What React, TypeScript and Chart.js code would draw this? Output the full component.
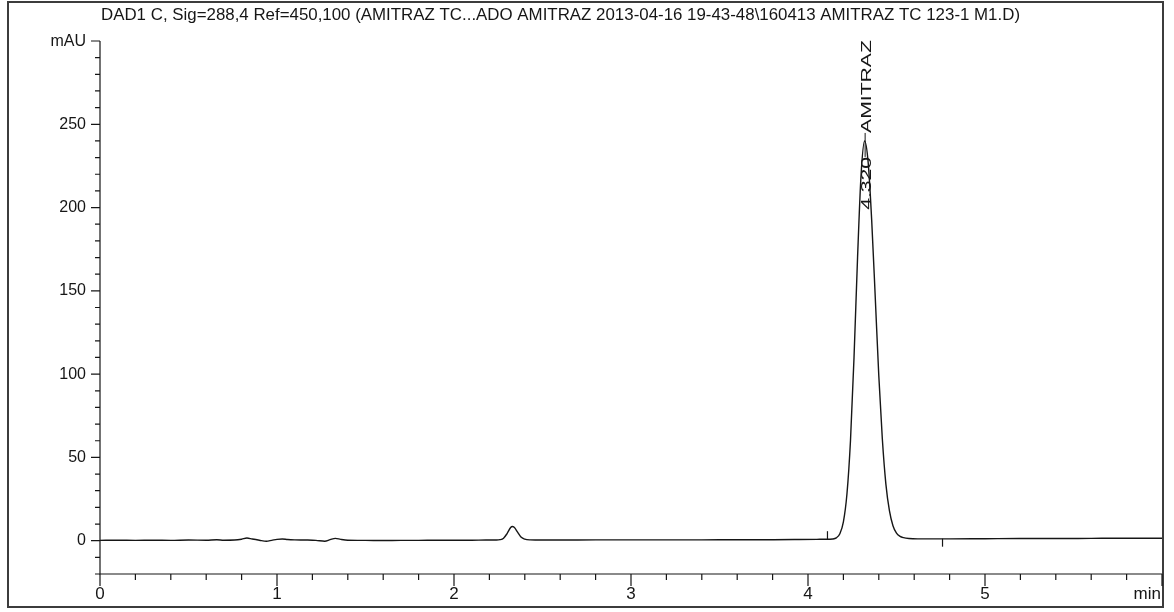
import React, { useEffect, useRef } from "react";
import { Chart, registerables } from "chart.js";

Chart.register(...registerables);

const chartTitle =
  "DAD1 C, Sig=288,4 Ref=450,100 (AMITRAZ TC...ADO AMITRAZ 2013-04-16 19-43-48\\160413 AMITRAZ TC 123-1 M1.D)";

// Retention time (min)
const timeMin = [
  0, 0.1, 0.2, 0.3, 0.4, 0.5, 0.6, 0.66, 0.7, 0.76, 0.8, 0.83, 0.86, 0.9, 0.94, 0.97, 1.0, 1.03, 1.06, 1.1,
  1.16, 1.22, 1.27, 1.3, 1.33, 1.36, 1.4, 1.5, 1.6, 1.7, 1.8, 1.9, 2.0, 2.1, 2.18, 2.24, 2.26, 2.28, 2.3, 2.32,
  2.33, 2.34, 2.36, 2.38, 2.4, 2.43, 2.5, 2.6, 2.8, 3.0, 3.2, 3.4, 3.6, 3.8, 3.95, 4.05, 4.12, 4.14, 4.16, 4.18,
  4.2, 4.22, 4.24, 4.26, 4.28, 4.3, 4.32, 4.34, 4.36, 4.38, 4.4, 4.42, 4.44, 4.46, 4.48, 4.5, 4.52, 4.54, 4.57, 4.62,
  4.7, 4.8, 5.0, 5.2, 5.4, 5.6, 5.8, 6.0,
];

// Detector signal (mAU)
const absorbanceMAU = [
  0.2, 0.3, 0.2, 0.3, 0.2, 0.4, 0.3, 0.6, 0.3, 0.4, 0.9, 1.6, 1.0, 0.3, -0.3, 0.2, 0.8, 1.0, 0.7, 0.5,
  0.4, 0.2, -0.3, 0.6, 1.4, 0.8, 0.3, 0.2, 0.1, 0.2, 0.2, 0.3, 0.3, 0.3, 0.4, 0.4, 0.6, 1.5, 4.3, 7.9,
  8.5, 8.0, 5.0, 2.0, 0.9, 0.5, 0.4, 0.4, 0.5, 0.5, 0.5, 0.5, 0.6, 0.6, 0.7, 0.8, 0.9, 1.0, 1.7, 4.2,
  11.3, 28, 60, 110, 170, 220, 240, 227, 192, 146, 99, 61, 34, 18, 9, 4.5, 2.6, 1.8, 1.3, 1.1,
  1.1, 1.1, 1.2, 1.3, 1.3, 1.4, 1.5, 1.5,
];

// Integration event marks
const eventTimes = [4.11, 4.76];
const eventMAU = [3.3, -1.2];

// Peak annotation
const peakRt = 4.32;
const peakApexMAU = 240;
const peakRtLabel = "4.320";
const peakName = "AMITRAZ";

// Axes
const xTickValues = [0, 1, 2, 3, 4, 5];
const xTickLabels = ["0", "1", "2", "3", "4", "5"];
const xUnitLabel = "min";
const yTickValues = [0, 50, 100, 150, 200, 250];
const yTickLabels = ["0", "50", "100", "150", "200", "250"];
const yUnitLabel = "mAU";

const X_MIN = 0;
const X_MAX = 6;
const Y_MIN = -20;
const Y_MAX = 300;
const X_MINOR = 0.2;
const Y_MINOR = 10;

const FONT = '"Liberation Sans", Arial, Helvetica, sans-serif';
const INK = "#161616";

const decorPlugin = {
  id: "chromDecor",
  beforeDraw(chart: any) {
    const { ctx, width, height } = chart;
    ctx.save();
    ctx.fillStyle = "#ffffff";
    ctx.fillRect(0, 0, width, height);
    ctx.restore();
  },
  beforeDatasetsDraw(chart: any) {
    const { ctx } = chart;
    const xs = chart.scales.x;
    const ys = chart.scales.y;
    const ca = chart.chartArea;
    ctx.save();

    // outer frame
    ctx.strokeStyle = "#3c3c3c";
    ctx.lineWidth = 2;
    ctx.strokeRect(8, 2, 1155, 605);

    // axes lines
    ctx.strokeStyle = INK;
    ctx.lineWidth = 1.2;
    const axX = xs.getPixelForValue(X_MIN);
    const axY = ys.getPixelForValue(Y_MIN);
    ctx.beginPath();
    ctx.moveTo(axX, ys.getPixelForValue(Y_MAX));
    ctx.lineTo(axX, axY);
    ctx.lineTo(xs.getPixelForValue(X_MAX), axY);
    ctx.stroke();

    // y ticks
    const ny = Math.round((Y_MAX - Y_MIN) / Y_MINOR);
    ctx.beginPath();
    for (let i = 0; i <= ny; i++) {
      const v = Y_MIN + i * Y_MINOR;
      const major = yTickValues.includes(v) || v === Y_MAX;
      const len = major ? 9 : 5;
      const py = ys.getPixelForValue(v);
      ctx.moveTo(axX - len, py);
      ctx.lineTo(axX, py);
    }
    ctx.stroke();

    // x ticks
    const nx = Math.round((X_MAX - X_MIN) / X_MINOR);
    ctx.beginPath();
    for (let i = 0; i <= nx; i++) {
      const t = X_MIN + i * X_MINOR;
      const major = i % 5 === 0;
      const len = major ? 12 : 6;
      const px = xs.getPixelForValue(t);
      ctx.moveTo(px, axY);
      ctx.lineTo(px, axY + len);
    }
    ctx.stroke();

    // y labels
    ctx.fillStyle = INK;
    ctx.font = `16px ${FONT}`;
    ctx.textAlign = "right";
    ctx.textBaseline = "middle";
    yTickValues.forEach((v, i) => {
      ctx.fillText(yTickLabels[i], axX - 14, ys.getPixelForValue(v));
    });
    ctx.fillText(yUnitLabel, axX - 14, ys.getPixelForValue(Y_MAX) + 1);

    // x labels
    ctx.font = `17px ${FONT}`;
    ctx.textAlign = "center";
    ctx.textBaseline = "alphabetic";
    xTickValues.forEach((v, i) => {
      ctx.fillText(xTickLabels[i], xs.getPixelForValue(v), axY + 25);
    });
    ctx.textAlign = "right";
    ctx.fillText(xUnitLabel, xs.getPixelForValue(X_MAX) - 1, axY + 25);

    // title (condensed to match)
    ctx.font = `17px ${FONT}`;
    ctx.textAlign = "left";
    const w = ctx.measureText(chartTitle).width;
    const sx = 919 / w;
    ctx.save();
    ctx.translate(ca.left + 1, 20);
    ctx.scale(sx, 1);
    ctx.fillText(chartTitle, 0, 0);
    ctx.restore();

    ctx.restore();
  },
  afterDatasetsDraw(chart: any) {
    const { ctx } = chart;
    const xs = chart.scales.x;
    const ys = chart.scales.y;
    const px = xs.getPixelForValue(peakRt);
    const py = ys.getPixelForValue(peakApexMAU);
    const stretch = 1.41;
    const baseX = px + 6;
    ctx.save();
    ctx.fillStyle = INK;
    ctx.strokeStyle = INK;
    ctx.font = `15px ${FONT}`;
    ctx.textAlign = "left";
    ctx.textBaseline = "alphabetic";

    ctx.save();
    ctx.translate(baseX, py - 8);
    ctx.rotate(-Math.PI / 2);
    ctx.scale(stretch, 1);
    ctx.fillText(peakName, 0, 0);
    ctx.restore();

    const wRt = ctx.measureText(peakRtLabel).width * stretch;
    ctx.save();
    ctx.translate(baseX, py + 16 + wRt);
    ctx.rotate(-Math.PI / 2);
    ctx.scale(stretch, 1);
    ctx.fillText(peakRtLabel, 0, 0);
    ctx.restore();

    ctx.lineWidth = 1;
    ctx.beginPath();
    ctx.moveTo(px + 0.5, py + 16);
    ctx.lineTo(px + 0.5, py - 8);
    ctx.stroke();
    ctx.restore();
  },
};

export default function App() {
  const canvasRef = useRef<HTMLCanvasElement | null>(null);

  useEffect(() => {
    if (!canvasRef.current) return;
    const chart = new Chart(canvasRef.current, {
      type: "line",
      data: {
        datasets: [
          {
            data: timeMin.map((t, i) => ({ x: t, y: absorbanceMAU[i] })),
            borderColor: INK,
            borderWidth: 1.4,
            pointRadius: 0,
            fill: false,
            cubicInterpolationMode: "monotone",
          },
          {
            data: eventTimes.map((t, i) => ({ x: t, y: eventMAU[i] })),
            showLine: false,
            pointStyle: "line",
            rotation: 90,
            pointRadius: 4,
            borderColor: INK,
            borderWidth: 1.2,
          },
        ],
      } as any,
      options: {
        responsive: false,
        animation: false,
        layout: { padding: { left: 100, top: 41, right: 12, bottom: 38 } },
        scales: {
          x: { type: "linear", min: X_MIN, max: X_MAX, display: false },
          y: { type: "linear", min: Y_MIN, max: Y_MAX, display: false },
        },
        plugins: {
          legend: { display: false },
          tooltip: { enabled: false },
          title: { display: false },
        },
      } as any,
      plugins: [decorPlugin],
    });
    return () => chart.destroy();
  }, []);

  return (
    <div style={{ position: "absolute", left: 0, top: 0, width: 1174, height: 612 }}>
      <canvas ref={canvasRef} width={1174} height={612} />
    </div>
  );
}
